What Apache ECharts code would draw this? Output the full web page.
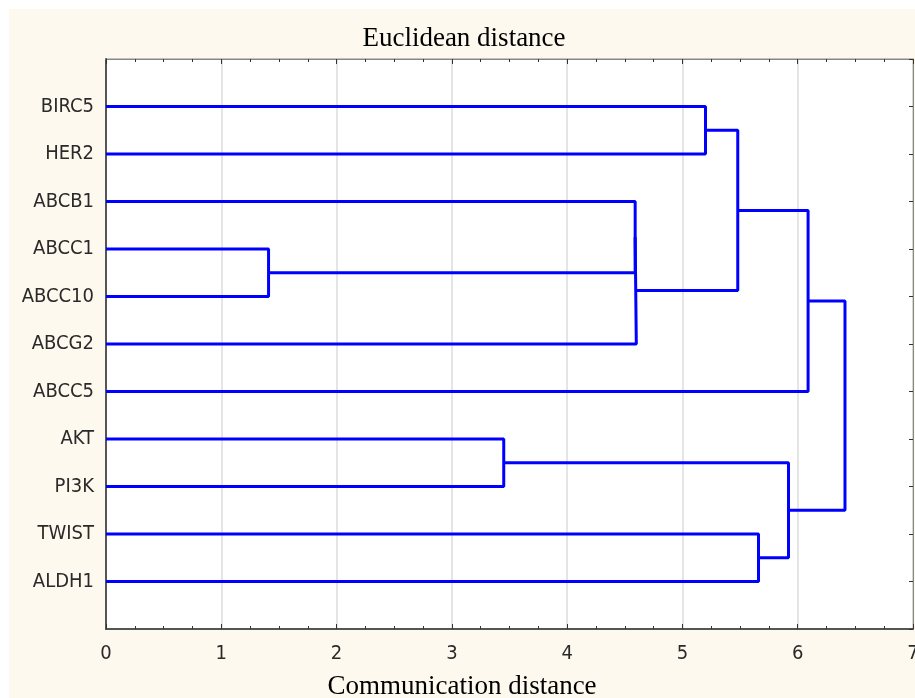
<!DOCTYPE html>
<html>
<head>
<meta charset="utf-8">
<script src="https://cdn.jsdelivr.net/npm/echarts@6/dist/echarts.min.js"></script>
<style>
html,body{margin:0;padding:0;background:#ffffff;}
#chart{width:915px;height:698px;}
</style>
</head>
<body>
<div id="chart"></div>
<script>
// Leaves (top to bottom)
const leafLabels = ['BIRC5','HER2','ABCB1','ABCC1','ABCC10','ABCG2','ABCC5','AKT','PI3K','TWIST','ALDH1'];
// Linkage: merge k creates node id (leafLabels.length + k) from nodes mergeA[k] and mergeB[k]
const mergeA = [3, 7, 2, 13, 0, 15, 16, 9, 12, 17];
const mergeB = [4, 8, 11, 5, 1, 14, 6, 10, 18, 19];
const mergeHeight = [1.41, 3.45, 4.59, 4.60, 5.20, 5.48, 6.09, 5.66, 5.92, 6.41];
const xTicks = [0, 1, 2, 3, 4, 5, 6, 7];

const n = leafLabels.length;
const pos = [], hgt = [];
for (let i = 0; i < n; i++) { pos[i] = i + 1; hgt[i] = 0; }
const series = [];
for (let k = 0; k < mergeA.length; k++) {
  const a = mergeA[k], b = mergeB[k], h = mergeHeight[k];
  pos[n + k] = (pos[a] + pos[b]) / 2;
  hgt[n + k] = h;
  series.push({
    type: 'line',
    data: [[hgt[a], pos[a]], [h, pos[a]], [h, pos[b]], [hgt[b], pos[b]]],
    symbol: 'none',
    silent: true,
    lineStyle: { color: '#0000ff', width: 3 },
    z: 5
  });
}

const condensed = "'Liberation Sans Narrow', 'DejaVu Sans Condensed', 'Liberation Sans', sans-serif";

const chart = echarts.init(document.getElementById('chart'), null, { renderer: 'canvas' });
chart.setOption({
  animation: false,
  backgroundColor: '#ffffff',
  graphic: [{
    type: 'rect', z: -100, silent: true,
    shape: { x: 9, y: 9, width: 906, height: 689 },
    style: { fill: '#fef9ee' }
  }],
  title: {
    text: 'Euclidean distance',
    left: 459, top: 20, textAlign: 'center',
    textStyle: { fontFamily: 'Liberation Serif', fontSize: 27, fontWeight: 'normal', color: '#000' }
  },
  grid: {
    left: 106, right: 2, top: 59, bottom: 69,
    outerBoundsMode: 'none', containLabel: false,
    show: true, backgroundColor: '#ffffff', borderColor: '#888', borderWidth: 1
  },
  xAxis: [{
    type: 'value', min: 0, max: 7, interval: 1, position: 'bottom',
    name: 'Communication distance', nameLocation: 'middle', nameGap: 44,
    nameTextStyle: { fontFamily: 'Liberation Serif', fontSize: 27, color: '#000', padding: [0, 95, 0, 0] },
    axisLine: { show: true, onZero: false, lineStyle: { color: '#555', width: 2 } },
    axisTick: { show: true, inside: true, length: 5, lineStyle: { color: '#333' } },
    minorTick: { show: true, splitNumber: 4, length: 3, lineStyle: { color: '#333' } },
    axisLabel: { margin: 15, fontFamily: condensed, fontSize: 20, color: '#2a2a2a',
      formatter: v => xTicks.indexOf(v) >= 0 ? String(v) : '' },
    splitLine: { show: true, lineStyle: { color: '#dddddd', width: 1.5 } }
  }, {
    type: 'value', min: 0, max: 7, interval: 1, position: 'top',
    axisLine: { show: true, onZero: false, lineStyle: { color: '#888', width: 1 } },
    axisTick: { show: true, inside: true, length: 5, lineStyle: { color: '#333' } },
    minorTick: { show: true, splitNumber: 4, length: 3, lineStyle: { color: '#333' } },
    axisLabel: { show: false },
    splitLine: { show: false }
  }],
  yAxis: [{
    type: 'value', min: 0, max: 12, interval: 1, inverse: true, position: 'left',
    axisLine: { show: true, onZero: false, lineStyle: { color: '#555', width: 2 } },
    axisTick: { show: false },
    axisLabel: { margin: 12, fontFamily: condensed, fontSize: 20, color: '#2a2a2a',
      formatter: v => leafLabels[v - 1] || '' },
    splitLine: { show: false }
  }, {
    type: 'value', min: 0, max: 12, interval: 1, inverse: true, position: 'right',
    axisLine: { show: true, onZero: false, lineStyle: { color: '#888', width: 1 } },
    axisTick: { show: true, inside: true, length: 4, lineStyle: { color: '#333' } },
    axisLabel: { show: false },
    splitLine: { show: false }
  }],
  series: series
});
</script>
</body>
</html>
